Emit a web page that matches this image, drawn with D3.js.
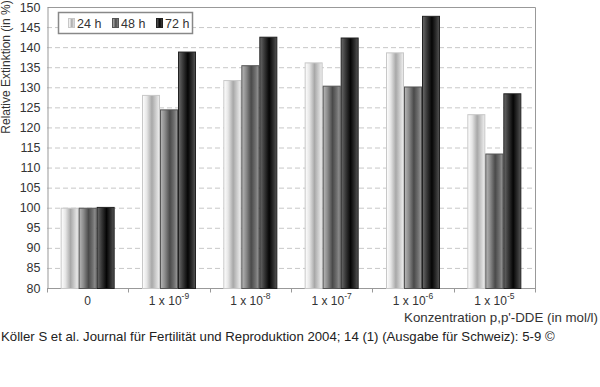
<!DOCTYPE html>
<html><head><meta charset="utf-8">
<script src="https://cdn.jsdelivr.net/npm/d3@7"></script>
<style>body{margin:0;background:#fff}svg{display:block;font-family:"Liberation Sans",Arial,sans-serif}</style>
</head><body>
<svg id="c" width="600" height="387"></svg>
<script>
const categories = ["0","-9","-8","-7","-6","-5"];
const seriesNames = ["24 h","48 h","72 h"];
const v24 = [100.0, 128.1, 131.8, 136.2, 138.7, 123.3];
const v48 = [100.0, 124.5, 135.5, 130.4, 130.2, 113.5];
const v72 = [100.2, 138.9, 142.6, 142.4, 147.8, 128.5];
const yTicks = [80,85,90,95,100,105,110,115,120,125,130,135,140,145,150];

const svg = d3.select("#c");
const L=47, R=535, T=7, B=288;
const x = d3.scaleBand().domain(categories).range([L,R]).paddingInner(0).paddingOuter(0);
const y = d3.scaleLinear().domain([80,150]).range([B,T]);
const xs = d3.scaleBand().domain(seriesNames).range([0,54]);

const defs = svg.append("defs");
const grads = [
  [[0,"#ffffff"],[0.25,"#e6e6e6"],[0.55,"#a8a8a8"],[0.8,"#d0d0d0"],[1,"#f0f0f0"]],
  [[0,"#b8b8b8"],[0.25,"#8c8c8c"],[0.55,"#4a4a4a"],[0.8,"#707070"],[1,"#9a9a9a"]],
  [[0,"#6a6a6a"],[0.25,"#3a3a3a"],[0.55,"#050505"],[0.8,"#2e2e2e"],[1,"#555555"]]
];
const strokes = ["#c8c8c8","#555","#222"];
grads.forEach((g,i)=>{
  const lg = defs.append("linearGradient").attr("id","g"+i).attr("x1","0").attr("x2","1").attr("y1","0").attr("y2","0");
  g.forEach(s=>lg.append("stop").attr("offset",s[0]).attr("stop-color",s[1]));
});

// grid
svg.append("g").selectAll("line").data(yTicks.filter(t=>t>80 && t<150)).join("line")
  .attr("x1",L).attr("x2",R).attr("y1",d=>y(d)+0.5).attr("y2",d=>y(d)+0.5)
  .attr("stroke","#c8c8c8").attr("stroke-dasharray","5,3");
// frame
svg.append("path").attr("d",`M${L+0.5},${T+0.5}H${R+0.5}V${B+0.5}`).attr("fill","none").attr("stroke","#999");

// y axis
const ya = svg.append("g").attr("transform",`translate(${L+0.5},0)`).call(d3.axisLeft(y).tickValues(yTicks).tickSize(0).tickPadding(7));
ya.select(".domain").attr("stroke","#999");
ya.selectAll("text").attr("font-size",12.5).attr("fill","#333").attr("font-family","Liberation Sans, Arial, sans-serif");

// x axis
const xa = svg.append("g").attr("transform",`translate(0,${B+0.5})`);
xa.append("line").attr("x1",L).attr("x2",R+1).attr("stroke","#999");
xa.selectAll("line.t").data(d3.range(categories.length+1)).join("line").attr("class","t")
  .attr("x1",i=>Math.round(L+i*x.bandwidth())+0.5).attr("x2",i=>Math.round(L+i*x.bandwidth())+0.5)
  .attr("y1",0).attr("y2",4).attr("stroke","#999");
categories.forEach(c=>{
  const t = xa.append("text").attr("x",x(c)+x.bandwidth()/2).attr("y",16).attr("text-anchor","middle")
    .attr("font-size",12).attr("fill","#333");
  if(c==="0"){ t.text("0"); }
  else { t.append("tspan").text("1 x 10"); t.append("tspan").attr("dy",-6).attr("font-size",8.5).text(c); }
});

// bars
const data = [v24,v48,v72];
data.forEach((vals,si)=>{
  svg.append("g").selectAll("rect").data(vals).join("rect")
    .attr("x",(d,i)=>x(categories[i])+x.bandwidth()/2-27+xs(seriesNames[si])+0.5)
    .attr("width",xs.bandwidth()-1)
    .attr("y",d=>y(d)+0.5).attr("height",d=>B-y(d))
    .attr("fill","url(#g"+si+")").attr("stroke",strokes[si]).attr("stroke-width",1);
});

// legend
const lg = svg.append("g");
lg.append("rect").attr("x",58.5).attr("y",12.5).attr("width",134).attr("height",21).attr("fill","#fff").attr("stroke","#888").attr("stroke-width",1.5);
seriesNames.forEach((n,i)=>{
  const lx = 68 + i*44;
  lg.append("rect").attr("x",lx+0.5).attr("y",18.5).attr("width",6).attr("height",9).attr("fill","url(#g"+i+")").attr("stroke",strokes[i]);
  lg.append("text").attr("x",lx+9).attr("y",27.5).attr("font-size",12.5).attr("fill","#333").text(n);
});

// axis titles
svg.append("text").attr("transform","translate(10,67) rotate(-90)").attr("text-anchor","middle")
  .attr("font-size",12).attr("fill","#333").text("Relative Extinktion (in %)");
svg.append("text").attr("x",598).attr("y",322).attr("text-anchor","end").attr("font-size",13.3).attr("fill","#333")
  .text("Konzentration p,p'-DDE (in mol/l)");
svg.append("text").attr("x",1).attr("y",341).attr("font-size",13.2).attr("fill","#222")
  .text("Köller S et al. Journal für Fertilität und Reproduktion 2004; 14 (1) (Ausgabe für Schweiz): 5-9 ©");
</script>
</body></html>
